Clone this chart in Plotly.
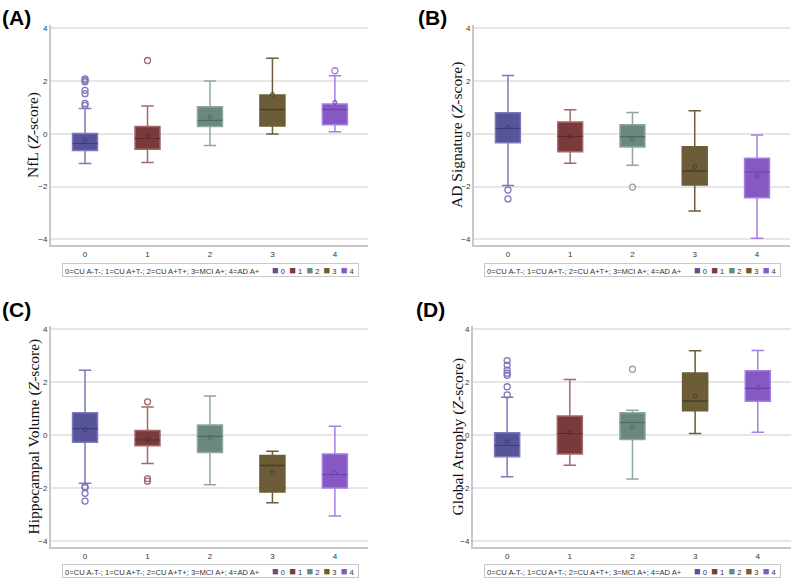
import plotly.graph_objects as go

groups = [0, 1, 2, 3, 4]
group_labels = ["0", "1", "2", "3", "4"]
legend_text = "0=CU A-T-; 1=CU A+T-; 2=CU A+T+; 3=MCI A+; 4=AD A+"
y_ticks = [-4, -2, 0, 2, 4]

# Panel A: NfL
nfl_q1 = [-0.63, -0.59, 0.28, 0.30, 0.34]
nfl_med = [-0.37, -0.18, 0.51, 0.92, 0.92]
nfl_q3 = [0.01, 0.28, 1.03, 1.47, 1.13]
nfl_lo = [-1.13, -1.09, -0.44, -0.01, 0.08]
nfl_hi = [0.96, 1.05, 2.00, 2.86, 2.20]
nfl_mean = [-0.24, -0.08, 0.65, 1.49, 1.19]
nfl_out = [[2.08, 2.02, 1.97, 1.65, 1.52, 1.15, 1.08], [2.78], [], [], [2.39]]

# Panel B: AD signature
ads_q1 = [-0.34, -0.68, -0.50, -1.94, -2.42]
ads_med = [0.21, -0.09, -0.11, -1.41, -1.45]
ads_q3 = [0.80, 0.45, 0.34, -0.49, -0.93]
ads_lo = [-1.96, -1.12, -1.19, -2.93, -3.96]
ads_hi = [2.21, 0.91, 0.81, 0.87, -0.05]
ads_mean = [0.25, -0.10, -0.20, -1.24, -1.62]
ads_out = [[-2.13, -2.47], [], [-2.02], [], []]

# Panel C: Hippocampal volume
hip_q1 = [-0.27, -0.40, -0.66, -2.15, -2.00]
hip_med = [0.24, -0.18, -0.04, -1.15, -1.50]
hip_q3 = [0.85, 0.18, 0.38, -0.77, -0.71]
hip_lo = [-1.82, -1.07, -1.87, -2.55, -3.06]
hip_hi = [2.45, 1.06, 1.48, -0.61, 0.34]
hip_mean = [0.21, -0.16, -0.08, -1.42, -1.42]
hip_out = [[-1.95, -1.98, -2.20, -2.49], [1.26, -1.64, -1.74], [], [], []]

# Panel D: Global atrophy
ga_q1 = [-0.82, -0.71, -0.16, 0.92, 1.28]
ga_med = [-0.39, 0.06, 0.48, 1.29, 1.77]
ga_q3 = [0.09, 0.72, 0.85, 2.35, 2.43]
ga_lo = [-1.57, -1.14, -1.66, 0.06, 0.11]
ga_hi = [1.43, 2.10, 0.94, 3.19, 3.20]
ga_mean = [-0.25, 0.09, 0.30, 1.47, 1.80]
ga_out = [[2.82, 2.65, 2.46, 2.34, 2.26, 1.83, 1.52], [], [2.49], [], []]

fill_colors = ["#57549a", "#7a3a3c", "#6a887e", "#6c5c38", "#8558c4"]
line_colors = ["#7d79bd", "#a26a6a", "#8ea89f", "#6c5c38", "#a67ee6"]
mean_colors = ["#3f3c7a", "#5c2a2a", "#4f6a60", "#4a3e25", "#6a40a8"]

panels = [
    ("(A)", "NfL (<i>Z</i>-score)", nfl_q1, nfl_med, nfl_q3, nfl_lo, nfl_hi, nfl_mean, nfl_out),
    ("(B)", "AD Signature (<i>Z</i>-score)", ads_q1, ads_med, ads_q3, ads_lo, ads_hi, ads_mean, ads_out),
    ("(C)", "Hippocampal Volume (<i>Z</i>-score)", hip_q1, hip_med, hip_q3, hip_lo, hip_hi, hip_mean, hip_out),
    ("(D)", "Global Atrophy (<i>Z</i>-score)", ga_q1, ga_med, ga_q3, ga_lo, ga_hi, ga_mean, ga_out),
]

W, H = 794, 579
# pixel layout of each panel: (left, right, top, bottom, yrange, title_x, label_x, label_y, legend_cx, legend_cy)
geo = [
    (51, 368, 25, 245, [-4.216, 4.125], 33, 0, 4, 210, 270),
    (474, 790, 25, 245, [-4.216, 4.125], 457, 416, 4, 632.5, 270),
    (51, 368, 326, 547, [-4.227, 4.125], 33, 0, 296, 210, 571),
    (473, 791, 326, 547, [-4.227, 4.125], 457, 414, 296, 632, 571),
]

fig = go.Figure()
layout = dict(
    width=W, height=H, margin=dict(l=0, r=0, t=0, b=0),
    paper_bgcolor="white", plot_bgcolor="white", showlegend=False,
    font=dict(family="Arial, Liberation Sans, sans-serif", color="#333"),
)
annotations = []

for p, (lab, ytitle, q1, med, q3, lo, hi, mn, outs) in enumerate(panels):
    left, right, top, bottom, yr, tx, lx, ly, lcx, lcy = geo[p]
    sfx = "" if p == 0 else str(p + 1)
    xa, ya = "x" + sfx, "y" + sfx
    for i, g in enumerate(groups):
        fig.add_trace(go.Box(
            x=[g], q1=[q1[i]], median=[med[i]], q3=[q3[i]],
            lowerfence=[lo[i]], upperfence=[hi[i]],
            width=0.4, whiskerwidth=0.5, boxpoints=False,
            fillcolor=fill_colors[i], line=dict(color=line_colors[i], width=1.5),
            xaxis=xa, yaxis=ya, hoverinfo="skip",
        ))
        # darker median line drawn as a degenerate box at the median
        fig.add_trace(go.Box(
            x=[g], q1=[med[i]], median=[med[i]], q3=[med[i]],
            lowerfence=[med[i]], upperfence=[med[i]],
            width=0.4, whiskerwidth=0.5, boxpoints=False,
            fillcolor="rgba(0,0,0,0)", line=dict(color=mean_colors[i], width=1.5),
            xaxis=xa, yaxis=ya, hoverinfo="skip",
        ))
        fig.add_trace(go.Scatter(
            x=[g], y=[mn[i]], mode="markers",
            marker=dict(symbol="circle-open", size=4, color=mean_colors[i], line=dict(width=1)),
            xaxis=xa, yaxis=ya, hoverinfo="skip",
        ))
        if outs[i]:
            fig.add_trace(go.Scatter(
                x=[g] * len(outs[i]), y=outs[i], mode="markers",
                marker=dict(symbol="circle-open", size=6, color=line_colors[i], line=dict(width=1.3)),
                xaxis=xa, yaxis=ya, hoverinfo="skip",
            ))
    layout["xaxis" + sfx] = dict(
        domain=[left / W, right / W], range=[-0.545, 4.53], anchor=ya,
        tickvals=groups, ticktext=group_labels, showgrid=False, zeroline=False,
        showline=True, linecolor="#c8c8c8", linewidth=2, ticks="",
        tickfont=dict(size=8, color="#333"),
    )
    layout["yaxis" + sfx] = dict(
        domain=[1 - bottom / H, 1 - top / H], range=yr, anchor=xa,
        tickvals=y_ticks, showgrid=True, gridcolor="#e6e6e6", gridwidth=2,
        zeroline=False, showline=True, linecolor="#c8c8c8", linewidth=2, ticks="",
        tickfont=dict(size=8, color="#333"),
    )
    annotations.append(dict(
        text=ytitle, xref="paper", yref="paper", x=tx / W, y=1 - (top + bottom) / 2 / H,
        textangle=-90, showarrow=False, xanchor="center", yanchor="middle",
        font=dict(family="Liberation Serif, Times New Roman, serif", size=15.5, color="#111"),
    ))
    annotations.append(dict(
        text="<b>" + lab + "</b>", xref="paper", yref="paper", x=lx / W, y=1 - ly / H,
        showarrow=False, xanchor="left", yanchor="top",
        font=dict(family="Arial, Liberation Sans, sans-serif", size=21, color="black"),
    ))
    items = "&nbsp;&nbsp;".join(
        "<span style='color:%s;font-size:11px'>■</span>&nbsp;%s" % (fill_colors[i], group_labels[i])
        for i in range(len(groups))
    )
    annotations.append(dict(
        text="&nbsp;" + legend_text + "&nbsp;&nbsp;&nbsp;&nbsp;&nbsp; " + items + "&nbsp;&nbsp;",
        xref="paper", yref="paper",
        x=lcx / W, y=1 - lcy / H, showarrow=False, xanchor="center", yanchor="middle",
        bordercolor="#c8c8c8", borderwidth=1, borderpad=0, bgcolor="white",
        font=dict(family="Arial, Liberation Sans, sans-serif", size=7.6, color="#333"),
    ))

layout["annotations"] = annotations
fig.update_layout(**layout)
fig.write_html(
    "out.html",
    config={"displayModeBar": False},
    post_script="document.body.style.margin='0px';document.body.style.overflow='hidden';",
)
